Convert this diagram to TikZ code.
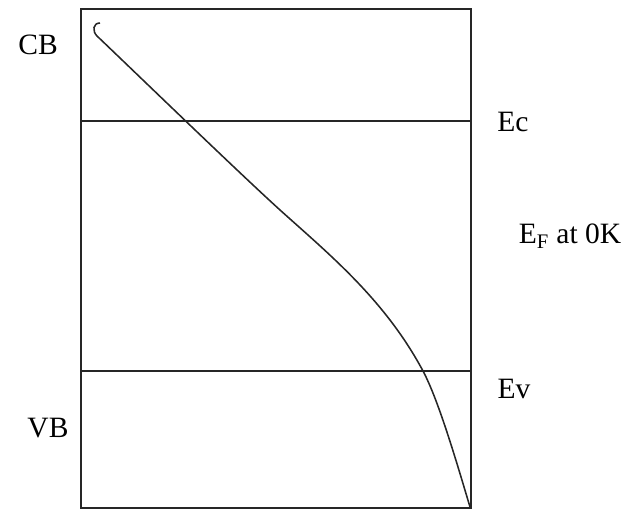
\documentclass[tikz,border=0pt]{standalone}
\usepackage{fontspec}
\setmainfont{Liberation Serif}
\usetikzlibrary{positioning}

\begin{document}
\begin{tikzpicture}[x=0.025cm, y=-0.025cm,
  band/.style={line width=1.1pt, black!85},
  lbl/.style={font=\fontsize{21}{25}\selectfont, inner sep=0pt},
  fd/.style={line width=1.1pt, black!85}
]
\useasboundingbox (0,0) rectangle (643,510);

% Box and band edges
\draw[band] (81,9) rectangle (471,508);
\coordinate (ecl) at (81,121);
\coordinate (ecr) at (471,121);
\coordinate (evl) at (81,371);
\coordinate (evr) at (471,371);
\draw[band] (ecl) -- (ecr);
\draw[band] (evl) -- (evr);

% Labels
\node[lbl] (cb) at (38,45) {CB};
\node[lbl] (vb) at (48,428) {VB};
\node[lbl] (ec) at (513,122) {Ec};
\node[lbl] (ev) at (514,389) {Ev};
\node[lbl] (ef) at (570,236) {E\textsubscript{F} at 0K};

% Fermi function
\coordinate (f0) at (100,23);
\coordinate (f1) at (97,36);
\coordinate (f2) at (280,210);
\coordinate (f3) at (423,371);
\coordinate (f4) at (470,507);
\draw[fd] (f0) .. controls (93,23) and (92,31) .. (f1)
  .. controls (140,77) and (236,170) .. (f2)
  .. controls (330,255) and (385,300) .. (f3)
  .. controls (439,401) and (458,467) .. (f4);
\end{tikzpicture}
\end{document}
